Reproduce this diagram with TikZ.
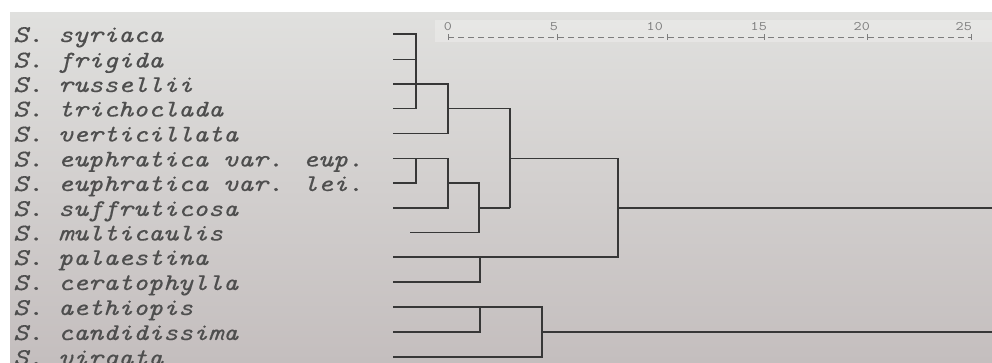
\documentclass[tikz,border=0pt]{standalone}
\usepackage{fontspec}
\newfontfamily\taxfam{Latin Modern Mono}[FakeStretch=1.19, FakeBold=0.35]
\newfontfamily\numfam{Latin Modern Mono}[FakeStretch=1.2]
\newcommand{\taxfont}{\taxfam\itshape\fontsize{24}{26}\selectfont}
\newcommand{\scalefont}{\numfam\fontsize{13}{14}\selectfont}
\definecolor{paperlight}{RGB}{224,224,222}
\definecolor{paperdark}{RGB}{196,190,190}
\definecolor{inkgray}{RGB}{78,78,78}
\definecolor{linegray}{RGB}{55,55,55}
\definecolor{rulegray}{RGB}{125,125,125}
\begin{document}
\begin{tikzpicture}
[
    x=1pt, y=-1pt,
    taxon/.style={anchor=base west, inner sep=0pt, text=inkgray, font=\taxfont},
    branch/.style={draw=linegray, line width=1.3pt},
    scalenum/.style={anchor=south east, inner sep=0pt, text=rulegray, font=\scalefont},
    scaletick/.style={draw=rulegray, line width=0.9pt}
]
    \useasboundingbox (0,0) rectangle (992,362);
    \shade[top color=paperlight, bottom color=paperdark] (10,12) rectangle (992,362);
    \fill[white, opacity=0.25] (435,20) rectangle (992,42);

    % distance scale
    \coordinate (s0) at (448,37);
    \coordinate (s5) at (557,37);
    \coordinate (s10) at (667,37);
    \coordinate (s15) at (764,37);
    \coordinate (s20) at (867,37);
    \coordinate (s25) at (971,37);
    \draw[draw=rulegray, line width=0.8pt, dash pattern=on 6pt off 4pt] (s0) -- (s25);
    \foreach \t in {s0,s5,s10,s15,s20,s25}
        \draw[scaletick] ([yshift=-3pt]\t) -- ([yshift=3pt]\t);
    \node[scalenum] (n0) at ([xshift=4pt, yshift=6pt]s0) {0};
    \node[scalenum] (n5) at ([xshift=1pt, yshift=6pt]s5) {5};
    \node[scalenum] (n10) at ([xshift=-4pt, yshift=6pt]s10) {10};
    \node[scalenum] (n15) at ([xshift=3pt, yshift=6pt]s15) {15};
    \node[scalenum] (n20) at ([xshift=3pt, yshift=6pt]s20) {20};
    \node[scalenum] (n25) at ([xshift=1pt, yshift=6pt]s25) {25};

    % species
    \node[taxon] (syr) at (13,42) {S. syriaca};
    \node[taxon] (fri) at (13,67.5) {S. frigida};
    \node[taxon] (rus) at (13,92) {S. russellii};
    \node[taxon] (tri) at (13,116.5) {S. trichoclada};
    \node[taxon] (ver) at (13,141.5) {S. verticillata};
    \node[taxon] (eup) at (13,166.5) {S. euphratica var. eup.};
    \node[taxon] (lei) at (13,191) {S. euphratica var. lei.};
    \node[taxon] (suf) at (13,216) {S. suffruticosa};
    \node[taxon] (mul) at (13,240.5) {S. multicaulis};
    \node[taxon] (pal) at (13,265) {S. palaestina};
    \node[taxon] (cer) at (13,290) {S. ceratophylla};
    \node[taxon] (aet) at (13,315) {S. aethiopis};
    \node[taxon] (can) at (13,340) {S. candidissima};
    \node[taxon] (vir) at (13,365) {S. virgata};

    % leaf ends
    \coordinate (syr-l) at (393,34);
    \coordinate (fri-l) at (393,59.5);
    \coordinate (rus-l) at (393,84);
    \coordinate (tri-l) at (393,108.5);
    \coordinate (ver-l) at (393,133.5);
    \coordinate (eup-l) at (393,158.5);
    \coordinate (lei-l) at (393,183);
    \coordinate (suf-l) at (393,208);
    \coordinate (mul-l) at (410,232.5);
    \coordinate (pal-l) at (393,257);
    \coordinate (cer-l) at (393,282);
    \coordinate (aet-l) at (393,307);
    \coordinate (can-l) at (393,332);
    \coordinate (vir-l) at (393,357);

    % first group
    \begin{scope}[branch]
        \coordinate (a1) at (416,34);
        \coordinate (a2) at (416,108.5);
        \coordinate (a3) at (448,84);
        \coordinate (a4) at (448,133.5);
        \coordinate (a5) at (448,108.5);
        \coordinate (a6) at (510,108.5);
        \coordinate (a7) at (510,208);
        \draw (syr-l) -- (a1) -- (a2) -- (tri-l);
        \draw (fri-l) -- (fri-l -| a1);
        \draw (rus-l) -- (a3) -- (a4) -- (ver-l);
        \draw (a5) -- (a6) -- (a7);

        \coordinate (b1) at (416,158.5);
        \coordinate (b2) at (416,183);
        \coordinate (b3) at (448,158.5);
        \coordinate (b4) at (448,208);
        \coordinate (b5) at (448,183);
        \coordinate (b6) at (479,183);
        \coordinate (b7) at (479,232.5);
        \coordinate (b8) at (479,208);
        \draw (eup-l) -- (b3) -- (b4) -- (suf-l);
        \draw (b1) -- (b2) -- (lei-l);
        \draw (b5) -- (b6) -- (b7) -- (mul-l);
        \draw (b8) -- (a7);

        \coordinate (c1) at (510,158.5);
        \coordinate (c2) at (618,158.5);
        \coordinate (c3) at (618,257);
        \coordinate (c4) at (480,257);
        \coordinate (c5) at (480,282);
        \coordinate (root1) at (992,208);
        \draw (c1) -- (c2) -- (c3) -- (pal-l);
        \draw (c4) -- (c5) -- (cer-l);
        \draw (c2 |- root1) -- (root1);
    \end{scope}

    % second group
    \begin{scope}[branch]
        \coordinate (d1) at (542,307);
        \coordinate (d2) at (542,357);
        \coordinate (d3) at (480,307);
        \coordinate (d4) at (480,332);
        \coordinate (root2) at (992,332);
        \draw (aet-l) -- (d1) -- (d2) -- (vir-l);
        \draw (d3) -- (d4) -- (can-l);
        \draw (d1 |- root2) -- (root2);
    \end{scope}
\end{tikzpicture}
\end{document}
